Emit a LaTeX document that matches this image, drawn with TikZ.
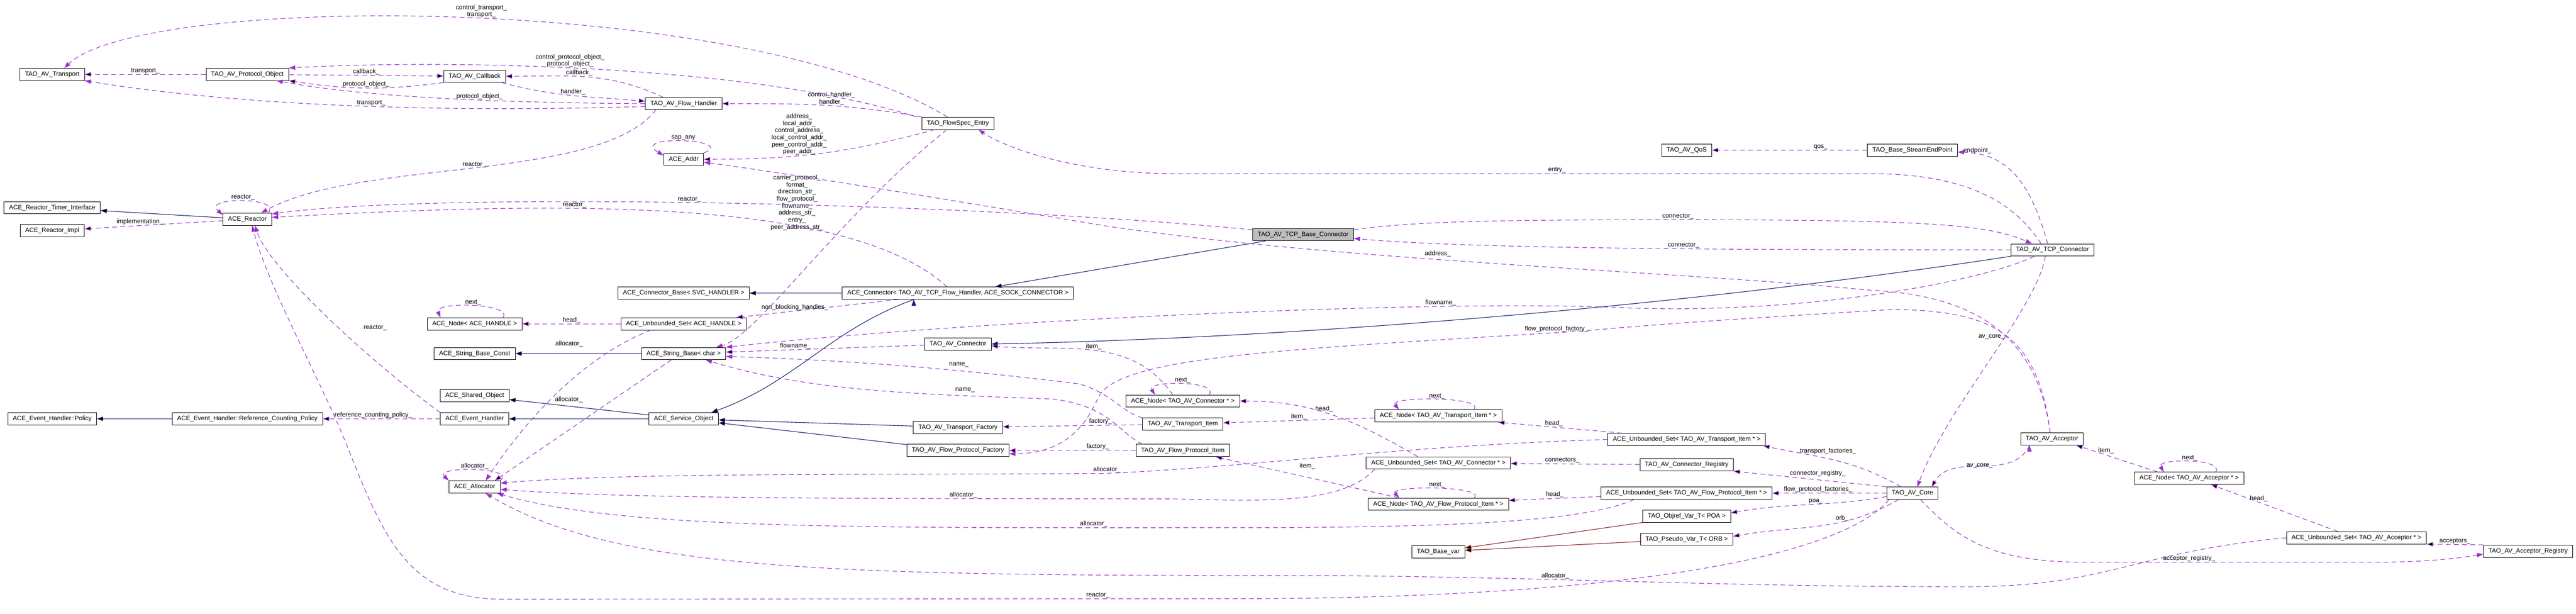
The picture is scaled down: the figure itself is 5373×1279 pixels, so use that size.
\documentclass[tikz,border=0pt]{standalone}
\usepackage{fontspec}
\setmainfont{Liberation Sans}
\usetikzlibrary{arrows.meta,positioning}

\definecolor{usecol}{HTML}{9A32CD}
\definecolor{inhcol}{HTML}{191970}
\definecolor{privcol}{HTML}{8B1A1A}
\definecolor{selfcol}{HTML}{BFBFBF}

\tikzset{
  cls/.style={draw=black,line width=1pt,fill=white,minimum height=25.5pt,inner xsep=10.5pt,inner ysep=0pt},
  member/.style={draw=usecol,line width=1.2pt,dash pattern=on 10pt off 7pt,-{Triangle[length=13pt,width=9pt]}},
  inherit/.style={draw=inhcol,line width=1.2pt,-{Triangle[length=13pt,width=9pt]}},
  privinh/.style={draw=privcol,line width=1.2pt,-{Triangle[length=13pt,width=9pt]}},
  lbl/.style={inner sep=1pt,align=center,text=black}
}

\begin{document}
\begin{tikzpicture}[x=1pt,y=1pt,on grid,node distance=100pt,font=\fontsize{13.2}{14.7}\selectfont]
    \useasboundingbox (0,0) rectangle (5373,-1279);

    \node[cls] (transport) at (109,-155)                    {TAO\_AV\_Transport};
    \node[cls] (protobj)     [right=407pt of transport]     {TAO\_AV\_Protocol\_Object};
    \node[cls] (callback)    [below right=4pt and 474pt of protobj] {TAO\_AV\_Callback};
    \node[cls] (flowhandler) [below right=57pt and 436pt of callback] {TAO\_AV\_Flow\_Handler};
    \node[cls] (flowspec)    [below right=41pt and 572pt of flowhandler] {TAO\_FlowSpec\_Entry};
    \node[cls] (addr)        [below=116pt of flowhandler]   {ACE\_Addr};
    \node[cls] (timer)       [below=278pt of transport]     {ACE\_Reactor\_Timer\_Interface};
    \node[cls] (rimpl)       [below=48pt of timer]          {ACE\_Reactor\_Impl};
    \node[cls] (reactor)     [below=302pt of protobj]       {ACE\_Reactor};
    \node[cls] (policy)      [below=392pt of rimpl]         {ACE\_Event\_Handler::Policy};
    \node[cls] (refpolicy)   [right=407pt of policy]        {ACE\_Event\_Handler::Reference\_Counting\_Policy};
    \node[cls] (evhandler)   [right=474pt of refpolicy]     {ACE\_Event\_Handler};
    \node[cls] (allocator)   [below=142pt of evhandler]     {ACE\_Allocator};
    \node[cls] (shared)      [above=48pt of evhandler]      {ACE\_Shared\_Object};
    \node[cls] (strconst)    [above=88pt of shared]         {ACE\_String\_Base\_Const};
    \node[cls] (nodehandle)  [above=62pt of strconst]       {ACE\_Node< ACE\_HANDLE >};
    \node[cls] (svcobj)      [right=436pt of evhandler]     {ACE\_Service\_Object};
    \node[cls] (string)      [right=436pt of strconst]      {ACE\_String\_Base< char >};
    \node[cls] (usethandle)  [right=436pt of nodehandle]    {ACE\_Unbounded\_Set< ACE\_HANDLE >};
    \node[cls] (connbase)    [above=64pt of usethandle]     {ACE\_Connector\_Base< SVC\_HANDLER >};
    \node[cls] (connector)   [right=572pt of connbase]      {ACE\_Connector< TAO\_AV\_TCP\_Flow\_Handler, ACE\_SOCK\_CONNECTOR >};
    \node[cls] (avconn)      [below=106pt of connector]     {TAO\_AV\_Connector};
    \node[cls] (tfactory)    [below=174pt of avconn]        {TAO\_AV\_Transport\_Factory};
    \node[cls] (ffactory)    [below=48pt of tfactory]       {TAO\_AV\_Flow\_Protocol\_Factory};
    \node[cls] (titem)       [above right=7pt and 469pt of tfactory] {TAO\_AV\_Transport\_Item};
    \node[cls] (fitem)       [right=469pt of ffactory]      {TAO\_AV\_Flow\_Protocol\_Item};
    \node[cls] (nodeconn)    [above=48pt of titem]          {ACE\_Node< TAO\_AV\_Connector * >};
    \node[cls,fill=selfcol] (base) [above right=347pt and 251pt of nodeconn] {TAO\_AV\_TCP\_Base\_Connector};
    \node[cls] (nodetitem)   [below right=31pt and 533pt of nodeconn] {ACE\_Node< TAO\_AV\_Transport\_Item * >};
    \node[cls] (usetconn)    [below=98pt of nodetitem]      {ACE\_Unbounded\_Set< TAO\_AV\_Connector * >};
    \node[cls] (nodefitem)   [below=86pt of usetconn]       {ACE\_Node< TAO\_AV\_Flow\_Protocol\_Item * >};
    \node[cls] (basevar)     [below=99pt of nodefitem]      {TAO\_Base\_var};
    \node[cls] (usettitem)   [below right=49pt and 518pt of nodetitem] {ACE\_Unbounded\_Set< TAO\_AV\_Transport\_Item * >};
    \node[cls] (connreg)     [below=53pt of usettitem]      {TAO\_AV\_Connector\_Registry};
    \node[cls] (usetfitem)   [below=59pt of connreg]        {ACE\_Unbounded\_Set< TAO\_AV\_Flow\_Protocol\_Item * >};
    \node[cls] (poa)         [below=48pt of usetfitem]      {TAO\_Objref\_Var\_T< POA >};
    \node[cls] (orb)         [below=48pt of poa]            {TAO\_Pseudo\_Var\_T< ORB >};
    \node[cls] (qos)         [above=603pt of usettitem]     {TAO\_AV\_QoS};
    \node[cls] (endpoint)    [right=471pt of qos]           {TAO\_Base\_StreamEndPoint};
    \node[cls] (avcore)      [right=471pt of usetfitem]     {TAO\_AV\_Core};
    \node[cls] (tcpconn) at (4281,-521)                     {TAO\_AV\_TCP\_Connector};
    \node[cls] (acceptor)    [above right=113pt and 291pt of avcore] {TAO\_AV\_Acceptor};
    \node[cls] (nodeacc)     [below right=82pt and 286pt of acceptor] {ACE\_Node< TAO\_AV\_Acceptor * >};
    \node[cls] (usetacc)     [below right=124pt and 349pt of nodeacc] {ACE\_Unbounded\_Set< TAO\_AV\_Acceptor * >};
    \node[cls] (accreg)      [below right=28pt and 358pt of usetacc] {TAO\_AV\_Acceptor\_Registry};

    \path[inherit]
     (reactor)   edge (timer)
     (refpolicy) edge (policy)
     (string)    edge (strconst)
     (svcobj)    edge (evhandler)
     (svcobj)    edge (shared)
     (connector) edge (connbase)
     (base)      edge (connector)
     (tfactory)  edge (svcobj)
     (ffactory)  edge (svcobj)
     ([xshift=-92pt]connector.south) edge [out=-160,in=20] ([xshift=58pt]svcobj.north);
    \draw[inherit] (tcpconn.south west) .. controls (3500,-640) and (2700,-705) .. (avconn.east);
    \path[privinh]
     (poa) edge (basevar)
     (orb) edge (basevar);

    \path[member]
     (protobj) edge node[lbl,above] {transport\_} (transport)
     (protobj) edge node[lbl,above] {callback\_} (callback)
     (callback.south west) edge [bend left=8] node[lbl,above] {protocol\_object\_} (protobj.south east)
     ([xshift=-43pt]flowhandler.north) edge [out=155,in=0] node[lbl,above,pos=.55] {callback\_} (callback.east)
     ([xshift=-8pt]callback.south east) edge [out=-15,in=175] node[lbl,above] {handler\_} ([yshift=5pt]flowhandler.west)
     (flowspec.north west) edge [out=170,in=0] node[lbl,above,pos=.45] {control\_handler\_\\handler\_} (flowhandler.east)
     ([xshift=-48pt]flowspec.south) edge [out=195,in=0] node[lbl,above,pos=.6] {address\_\\local\_addr\_\\control\_address\_\\local\_control\_addr\_\\peer\_control\_addr\_\\peer\_addr\_} (addr.east)
     (reactor) edge node[lbl,above,pos=.6] {implementation\_} (rimpl)
     (usethandle) edge node[lbl,above] {head\_} (nodehandle)
     ([xshift=-26pt]string.south) edge node[lbl,pos=.33,anchor=east,xshift=-62pt] {allocator\_} ([xshift=42pt]allocator.north)
     (evhandler) edge node[lbl,above,pos=.57] {reference\_counting\_policy\_} (refpolicy)
     ([xshift=-124pt]connector.south) edge node[lbl,above,pos=.64] {non\_blocking\_handles\_} ([xshift=110pt]usethandle.north)
     (avconn) edge node[lbl,above,pos=.65] {flowname\_} (string)
     ([xshift=-21pt]nodeconn.north) edge [out=125,in=-5] node[lbl,above] {item\_} ([yshift=-4pt]avconn.east)
     ([xshift=-43pt]usetconn.north) edge [out=150,in=0] node[lbl,above,pos=.55] {head\_} (nodeconn.east)
     (connreg) edge node[lbl,above,pos=.6] {connectors\_} (usetconn)
     (nodetitem) edge node[lbl,above] {item\_} (titem)
     ([xshift=-135pt]usettitem.north) edge node[lbl,above,pos=.55] {head\_} ([xshift=-8pt]nodetitem.south east)
     (titem) edge node[lbl,above,pos=.3] {factory\_} (tfactory)
     (fitem) edge node[lbl,above,pos=.3] {factory\_} (ffactory)
     ([xshift=-82pt]nodefitem.north) edge node[lbl,above,yshift=16pt] {item\_} ([xshift=69pt]fitem.south)
     ([yshift=-7pt]usetfitem.west) edge node[lbl,above] {head\_} ([yshift=8pt]nodefitem.east)
     ([xshift=-24pt]avcore.north) edge [out=150,in=-12] node[lbl,above,pos=.55,yshift=8pt] {transport\_factories\_} ([xshift=-5pt]usettitem.south east)
     (avcore.north west) edge node[lbl,above,pos=.45,yshift=6pt] {connector\_registry\_} (connreg.south east)
     (avcore) edge node[lbl,above,pos=.6] {flow\_protocol\_factories\_} (usetfitem)
     ([yshift=-7pt]avcore.west) edge [out=190,in=10] node[lbl,above,pos=.45] {poa\_} ([yshift=7pt]poa.east)
     ([xshift=-29pt]avcore.south) edge [out=-150,in=10] node[lbl,above,pos=.35] {orb\_} ([yshift=6pt]orb.east)
     (accreg.north west) edge node[lbl,above] {acceptors\_} (usetacc.south east)
     ([xshift=-39pt]usetacc.north) edge node[lbl,right,pos=.7] {head\_} ([xshift=46pt]nodeacc.south)
     ([xshift=49pt]nodeacc.north west) edge node[lbl,right,pos=.8,xshift=10pt] {item\_} ([xshift=-15pt]acceptor.south east)
     ([xshift=-47pt]acceptor.south) edge [out=-115,in=60] node[lbl,left,pos=.4] {av\_core\_} ([xshift=40pt]avcore.north)
     (endpoint) edge node[lbl,above,pos=.3] {qos\_} (qos);

    \draw[member] ([xshift=-22pt]flowspec.north) .. controls (1550,15) and (300,15) .. ([xshift=25pt]transport.north)
      node[lbl,above,pos=.48] {control\_transport\_\\transport\_};
    \draw[member] ([xshift=-86pt]flowspec.north) .. controls (1550,-130) and (900,-125) .. (protobj.north east)
      node[lbl,above,pos=.53] {control\_protocol\_object\_\\protocol\_object\_};
    \draw[member] (flowhandler.west) .. controls (1000,-214) and (750,-200) .. ([xshift=-26pt]protobj.south east)
      node[lbl,above,pos=.37] {protocol\_object\_};
    \draw[member] ([yshift=-6pt]flowhandler.west) .. controls (900,-235) and (500,-220) .. (transport.south east)
      node[lbl,above,pos=.45] {transport\_};
    \draw[member] (addr.north east) .. controls (1540,-290) and (1310,-280) .. ([yshift=-5pt]addr.north west)
      node[lbl,above,pos=.5] {sap\_any};
    \draw[member] ([xshift=-23pt]flowspec.south) .. controls (1750,-450) and (1580,-700) .. ([xshift=68pt]string.north)
      node[lbl,pos=.25,anchor=east,xshift=-98pt,yshift=-9pt] {carrier\_protocol\_\\format\_\\direction\_str\_\\flow\_protocol\_\\flowname\_\\address\_str\_\\entry\_\\peer\_address\_str\_};
    \draw[member] ([xshift=-58pt]flowhandler.south) .. controls (1250,-380) and (750,-330) .. ([xshift=29pt]reactor.north)
      node[lbl,above,pos=.5] {reactor\_};
    \draw[member] ([yshift=10pt]base.west) .. controls (2000,-420) and (900,-400) .. ([yshift=11pt]reactor.east)
      node[lbl,above,pos=.52] {reactor\_};
    \draw[member] ([xshift=-23pt]connector.north) .. controls (1760,-400) and (1100,-425) .. ([yshift=4pt]reactor.east)
      node[lbl,above,pos=.62] {reactor\_};
    \draw[member] (evhandler.north west) .. controls (780,-760) and (560,-560) .. ([xshift=16pt]reactor.south)
      node[lbl,pos=.45,anchor=west,xshift=50pt] {reactor\_};
    \draw[member] ([xshift=-49pt]avcore.south) .. controls (3860,-1140) and (3500,-1245) .. (2600,-1248)
      -- (1050,-1249) node[lbl,above,pos=.2] {reactor\_}
      .. controls (850,-1250) and (800,-1120) .. (720,-920)
      .. controls (670,-795) and (560,-600) .. ([xshift=10pt]reactor.south);
    \draw[member] ([xshift=-8pt]reactor.north east) .. controls (590,-410) and (420,-410) .. ([yshift=-4pt]reactor.north west)
      node[lbl,above,pos=.5] {reactor\_};
    \draw[member] ([xshift=-40pt]nodehandle.north east) .. controls (1070,-632) and (905,-628) .. ([xshift=28pt]nodehandle.north west)
      node[lbl,above,pos=.5] {next\_};
    \draw[member] ([xshift=-69pt]usethandle.south) .. controls (1200,-750) and (1080,-900) .. ([xshift=23pt]allocator.north)
      node[lbl,pos=.2,anchor=east,xshift=-50pt,yshift=18pt] {allocator\_};
    \draw[member] (allocator.north east) .. controls (1075,-972) and (905,-972) .. (allocator.north west)
      node[lbl,above,pos=.5] {allocator\_};
    \draw[member] ([xshift=-38pt]tcpconn.south) .. controls (4150,-580) and (3800,-655) .. (3400,-642)
      .. controls (3000,-622) and (2000,-670) .. (string.north east) node[lbl,above,pos=.25] {flowname\_};
    \draw[member] ([xshift=-15pt]tcpconn.south) .. controls (4250,-640) and (4060,-850) .. ([xshift=10pt]avcore.north)
      node[lbl,left,pos=.4] {av\_core\_};
    \draw[member] ([xshift=-10pt]tcpconn.north) .. controls (4240,-400) and (4200,-320) .. ([yshift=-4pt]endpoint.east)
      node[lbl,anchor=west,pos=.97,yshift=3pt] {endpoint\_};
    \draw[member] ([xshift=-4pt]acceptor.north) .. controls (4250,-690) and (4150,-648) .. (3950,-645)
      .. controls (3700,-660) and (3500,-672) .. (3300,-690)
      .. controls (2700,-728) and (2330,-740) .. (2290,-830) node[lbl,above,pos=.03] {flow\_protocol\_factory\_}
      .. controls (2255,-910) and (2200,-945) .. ([yshift=-7pt]ffactory.east);
    \draw[member] ([xshift=-64pt]nodeconn.north east) .. controls (2545,-793) and (2390,-793) .. ([xshift=61pt]nodeconn.north west)
      node[lbl,above,pos=.5] {next\_};
    \draw[member] ([xshift=-133pt]usetconn.south) .. controls (2800,-1050) and (2650,-1045) .. (2450,-1040)
      .. controls (1800,-1039) and (1300,-1040) .. ([yshift=-5pt]allocator.east) node[lbl,above,pos=.24] {allocator\_};
    \draw[member] ([xshift=-59pt]nodetitem.north east) .. controls (3100,-826) and (2895,-826) .. ([xshift=51pt]nodetitem.north west)
      node[lbl,above,pos=.5] {next\_};
    \draw[member] (titem.north west) .. controls (2340,-860) and (2320,-820) .. (2250,-800)
      .. controls (2000,-770) and (1800,-752) .. ([yshift=-6pt]string.east) node[lbl,above,pos=.35,yshift=6pt] {name\_};
    \draw[member] ([xshift=14pt]fitem.north west) .. controls (2330,-900) and (2320,-850) .. (2200,-832)
      .. controls (1950,-822) and (1700,-820) .. ([xshift=46pt]string.south) node[lbl,above,pos=.25,yshift=5pt] {name\_};
    \draw[member] ([xshift=-72pt]nodefitem.north east) .. controls (3100,-1012) and (2895,-1012) .. ([xshift=65pt]nodefitem.north west)
      node[lbl,above,pos=.5] {next\_};
    \draw[member] ([xshift=-110pt]usetfitem.south) .. controls (3300,-1090) and (3000,-1099) .. (2600,-1100)
      .. controls (1800,-1100) and (1300,-1105) .. ([xshift=-7pt]allocator.south east) node[lbl,above,pos=.14] {allocator\_};
    \draw[member] (usettitem.west) .. controls (2900,-930) and (2600,-975) .. (2300,-987) node[lbl,above,pos=.99] {allocator\_}
      .. controls (1800,-990) and (1300,-985) .. ([yshift=8pt]allocator.east);
    \draw[member] (usetacc.west) .. controls (4450,-1150) and (4400,-1223) .. (4100,-1223)
      .. controls (3600,-1223) and (3300,-1205) .. (2800,-1200) node[lbl,above,pos=.67] {allocator\_}
      .. controls (1800,-1199) and (1300,-1200) .. ([xshift=23pt]allocator.south);
    \draw[member] ([xshift=17pt]avcore.south) .. controls (4080,-1120) and (4150,-1172) .. (4350,-1172)
      -- (4950,-1172) node[lbl,above,pos=.36] {acceptor\_registry\_}
      .. controls (5050,-1172) and (5120,-1165) .. ([yshift=-6pt]accreg.west);
    \draw[member] ([xshift=-59pt]nodeacc.north east) .. controls (4640,-955) and (4495,-955) .. ([xshift=62pt]nodeacc.north west)
      node[lbl,above,pos=.5] {next\_};
    \draw[member] ([yshift=-3pt]base.north east) .. controls (2950,-462) and (3100,-458) .. (3500,-458) node[lbl,above,pos=1] {connector\_}
      .. controls (4050,-458) and (4150,-470) .. ([xshift=-43pt]tcpconn.north);
    \draw[member] (tcpconn.west) .. controls (3800,-520) and (3100,-522) .. ([yshift=-8pt]base.east)
      node[lbl,above,pos=.47] {connector\_};
    \draw[member] ([xshift=-24pt]tcpconn.north) .. controls (4200,-420) and (4100,-362) .. (3900,-362)
      -- (2450,-362) node[lbl,above,pos=.45] {entry\_}
      .. controls (2250,-362) and (2100,-310) .. ([xshift=43pt]flowspec.south);
    \draw[member] ([xshift=-4pt]acceptor.north) .. controls (4250,-700) and (4120,-615) .. (3900,-605)
      .. controls (3500,-565) and (2800,-545) .. (2300,-470) node[lbl,above,pos=.58,yshift=4pt] {address\_}
      .. controls (2000,-420) and (1700,-370) .. ([yshift=-6pt]addr.east);
\end{tikzpicture}
\end{document}
